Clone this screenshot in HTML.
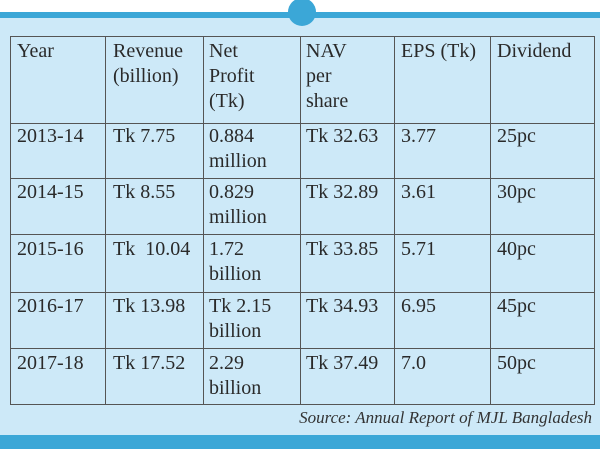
<!DOCTYPE html>
<html><head><style>
body{margin:0;width:600px;height:449px;overflow:hidden;background:#cde9f8;position:relative;font-family:"Liberation Serif","Noto Serif CJK SC",serif;color:#2a2a2a}
.top{position:absolute;left:0;top:0;width:600px;height:12px;background:#fff}
.bar{position:absolute;left:0;top:12px;width:600px;height:6px;background:#3ba7d7}
.circ{position:absolute;left:288px;top:-2px;width:28px;height:28px;border-radius:50%;background:#3ba7d7}
.bot{position:absolute;left:0;top:435px;width:600px;height:14px;background:#3ba7d7}
.h{position:absolute;left:10px;width:584px;height:0;border-top:1.5px solid #555}
.v{position:absolute;top:36px;height:369px;width:0;border-left:1.5px solid #555}
.t{position:absolute;font-size:20px;line-height:25px;white-space:pre}
.src{position:absolute;right:8px;top:408px;font-size:17px;font-style:italic;color:#333}
</style></head><body>
<div class="top"></div><div class="bar"></div><div class="circ"></div><div class="bot"></div>
<div class="h" style="top:36px"></div><div class="h" style="top:123px"></div><div class="h" style="top:178px"></div><div class="h" style="top:234px"></div><div class="h" style="top:292px"></div><div class="h" style="top:348px"></div><div class="h" style="top:404px"></div>
<div class="v" style="left:10px"></div><div class="v" style="left:105px"></div><div class="v" style="left:203px"></div><div class="v" style="left:300px"></div><div class="v" style="left:394px"></div><div class="v" style="left:490px"></div><div class="v" style="left:594px"></div>
<div class="t" style="left:17px;top:39px">Year</div>
<div class="t" style="left:113px;top:39px">Revenue
(billion)</div>
<div class="t" style="left:209px;top:39px">Net
Profit
(Tk)</div>
<div class="t" style="left:306px;top:39px">NAV
per
share</div>
<div class="t" style="left:401px;top:39px">EPS (Tk)</div>
<div class="t" style="left:497px;top:39px">Dividend</div>

<div class="t" style="left:17px;top:124px">2013-14</div><div class="t" style="left:113px;top:124px">Tk 7.75</div><div class="t" style="left:209px;top:124px">0.884
million</div><div class="t" style="left:306px;top:124px">Tk 32.63</div><div class="t" style="left:401px;top:124px">3.77</div><div class="t" style="left:497px;top:124px">25pc</div>

<div class="t" style="left:17px;top:180px">2014-15</div><div class="t" style="left:113px;top:180px">Tk 8.55</div><div class="t" style="left:209px;top:180px">0.829
million</div><div class="t" style="left:306px;top:180px">Tk 32.89</div><div class="t" style="left:401px;top:180px">3.61</div><div class="t" style="left:497px;top:180px">30pc</div>

<div class="t" style="left:17px;top:237px">2015-16</div><div class="t" style="left:113px;top:237px">Tk  10.04</div><div class="t" style="left:209px;top:237px">1.72
billion</div><div class="t" style="left:306px;top:237px">Tk 33.85</div><div class="t" style="left:401px;top:237px">5.71</div><div class="t" style="left:497px;top:237px">40pc</div>

<div class="t" style="left:17px;top:294px">2016-17</div><div class="t" style="left:113px;top:294px">Tk 13.98</div><div class="t" style="left:209px;top:294px">Tk 2.15
billion</div><div class="t" style="left:306px;top:294px">Tk 34.93</div><div class="t" style="left:401px;top:294px">6.95</div><div class="t" style="left:497px;top:294px">45pc</div>

<div class="t" style="left:17px;top:351px">2017-18</div><div class="t" style="left:113px;top:351px">Tk 17.52</div><div class="t" style="left:209px;top:351px">2.29
billion</div><div class="t" style="left:306px;top:351px">Tk 37.49</div><div class="t" style="left:401px;top:351px">7.0</div><div class="t" style="left:497px;top:351px">50pc</div>

<div class="src">Source: Annual Report of MJL Bangladesh</div>
</body></html>
